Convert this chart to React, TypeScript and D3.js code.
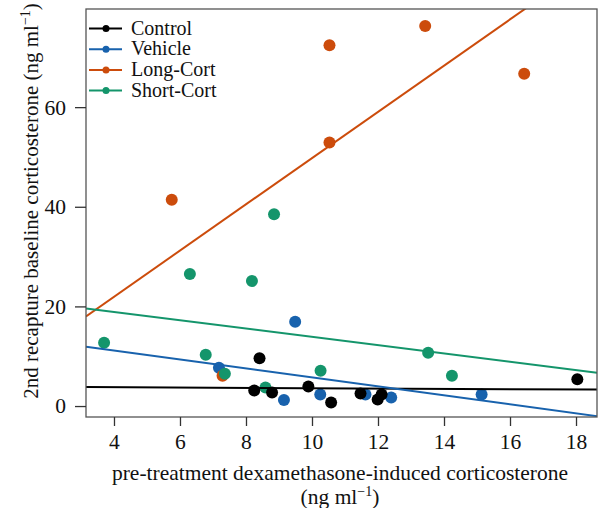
import React, { useEffect, useRef } from 'react'
import * as d3 from 'd3'

// groups in legend order
const groups = ['Control', 'Vehicle', 'Long-Cort', 'Short-Cort']
const colors = ['#000000', '#1862ad', '#cc4c0c', '#14956b']

// points (x: pre-treatment, y: 2nd recapture)
const controlX = [8.41, 8.25, 8.79, 9.89, 10.58, 11.47, 11.99, 12.11, 18.04]
const controlY = [9.6, 3.1, 2.7, 3.9, 0.7, 2.5, 1.3, 2.3, 5.4]
const vehicleX = [7.18, 9.49, 9.15, 10.25, 11.62, 12.40, 15.14]
const vehicleY = [7.7, 16.9, 1.2, 2.3, 2.3, 1.7, 2.3]
const longX = [5.75, 7.29, 10.53, 10.53, 13.43, 16.43]
const longY = [41.4, 6.1, 72.4, 52.9, 76.3, 66.7]
const shortX = [3.70, 6.30, 6.78, 7.36, 8.18, 8.85, 8.59, 10.26, 13.52, 14.24]
const shortY = [12.7, 26.5, 10.3, 6.5, 25.1, 38.5, 3.7, 7.1, 10.7, 6.1]

// fitted lines (intercept, slope) per group, as drawn
const intercepts = [3.9, 14.74, 3.37, 22.23]
const slopes = [-0.032, -0.9, 4.64, -0.835]

const xTicks = [4, 6, 8, 10, 12, 14, 16, 18]
const yTicks = [0, 20, 40, 60]

export default function App() {
  const svgRef = useRef<SVGSVGElement>(null)

  useEffect(() => {
    if (!svgRef.current) return
    const W = 601, H = 508
    const left = 86, right = 597, top = 9, bottom = 417
    const font = "'Liberation Serif', 'Times New Roman', serif"

    const svg = d3.select(svgRef.current)
    svg.selectAll('*').remove()
    svg.attr('width', W).attr('height', H)

    const x = d3.scaleLinear().domain([3.152, 18.636]).range([left, right])
    const y = d3.scaleLinear().domain([-2.2, 79.7]).range([bottom, top])

    svg.append('defs').append('clipPath').attr('id', 'plot-clip')
      .append('rect')
      .attr('x', left).attr('y', top)
      .attr('width', right - left).attr('height', bottom - top)

    const plot = svg.append('g').attr('clip-path', 'url(#plot-clip)')

    const series = [
      { xs: controlX, ys: controlY },
      { xs: vehicleX, ys: vehicleY },
      { xs: longX, ys: longY },
      { xs: shortX, ys: shortY },
    ]

    // points: vehicle, long, short, then control on top
    const order = [1, 2, 3, 0]
    order.forEach(gi => {
      const s = series[gi]
      plot.append('g').selectAll('circle')
        .data(s.xs.map((v, i) => [v, s.ys[i]]))
        .join('circle')
        .attr('cx', d => x(d[0]))
        .attr('cy', d => y(d[1]))
        .attr('r', 6)
        .attr('fill', colors[gi])
    })

    // regression lines
    const [x0, x1] = x.domain()
    groups.forEach((g, gi) => {
      plot.append('line')
        .attr('x1', x(x0)).attr('y1', y(intercepts[gi] + slopes[gi] * x0))
        .attr('x2', x(x1)).attr('y2', y(intercepts[gi] + slopes[gi] * x1))
        .attr('stroke', colors[gi])
        .attr('stroke-width', 2)
    })

    // box
    svg.append('rect')
      .attr('x', left).attr('y', top)
      .attr('width', right - left).attr('height', bottom - top)
      .attr('fill', 'none')
      .attr('stroke', '#555')
      .attr('stroke-width', 1.3)

    // x axis
    const xa = svg.append('g').attr('transform', `translate(0,${bottom})`)
      .call(d3.axisBottom(x).tickValues(xTicks).tickSize(9).tickPadding(8).tickFormat(d => String(d)))
    xa.select('.domain').remove()
    xa.selectAll('.tick line').attr('stroke', '#333').attr('stroke-width', 1.3)
    xa.selectAll('text').attr('font-family', font).attr('font-size', 21.5).attr('fill', '#111')

    // y axis
    const ya = svg.append('g').attr('transform', `translate(${left},0)`)
      .call(d3.axisLeft(y).tickValues(yTicks).tickSize(11).tickPadding(9).tickFormat(d => String(d)))
    ya.select('.domain').remove()
    ya.selectAll('.tick line').attr('stroke', '#333').attr('stroke-width', 1.3)
    ya.selectAll('text').attr('font-family', font).attr('font-size', 21.5).attr('fill', '#111')

    // x title
    svg.append('text')
      .attr('x', 340).attr('y', 480)
      .attr('text-anchor', 'middle')
      .attr('font-family', font).attr('font-size', 21.5).attr('fill', '#111')
      .text('pre-treatment dexamethasone-induced corticosterone')
    const t2 = svg.append('text')
      .attr('x', 340).attr('y', 504)
      .attr('text-anchor', 'middle')
      .attr('font-family', font).attr('font-size', 21.5).attr('fill', '#111')
    t2.append('tspan').text('(ng ml')
    t2.append('tspan').attr('font-size', 14).attr('dy', -8).text('−1')
    t2.append('tspan').attr('dy', 8).text(')')

    // y title
    const yt = svg.append('text')
      .attr('transform', 'translate(38,201) rotate(-90)')
      .attr('text-anchor', 'middle')
      .attr('font-family', font).attr('font-size', 21).attr('fill', '#111')
    yt.append('tspan').text('2nd recapture baseline corticosterone (ng ml')
    yt.append('tspan').attr('font-size', 14).attr('dy', -8).text('−1')
    yt.append('tspan').attr('dy', 8).text(')')

    // legend
    const lg = svg.append('g')
    groups.forEach((g, gi) => {
      const ry = 28.5 + gi * 20.7
      lg.append('line')
        .attr('x1', 89).attr('x2', 122).attr('y1', ry).attr('y2', ry)
        .attr('stroke', colors[gi]).attr('stroke-width', 2)
      lg.append('circle').attr('cx', 106).attr('cy', ry).attr('r', 3.5).attr('fill', colors[gi])
      lg.append('text')
        .attr('x', 131).attr('y', ry + 6)
        .attr('font-family', font).attr('font-size', 20).attr('fill', '#111')
        .text(g)
    })
  }, [])

  return <svg ref={svgRef} style={{ position: 'absolute', left: 0, top: 0 }} />
}
